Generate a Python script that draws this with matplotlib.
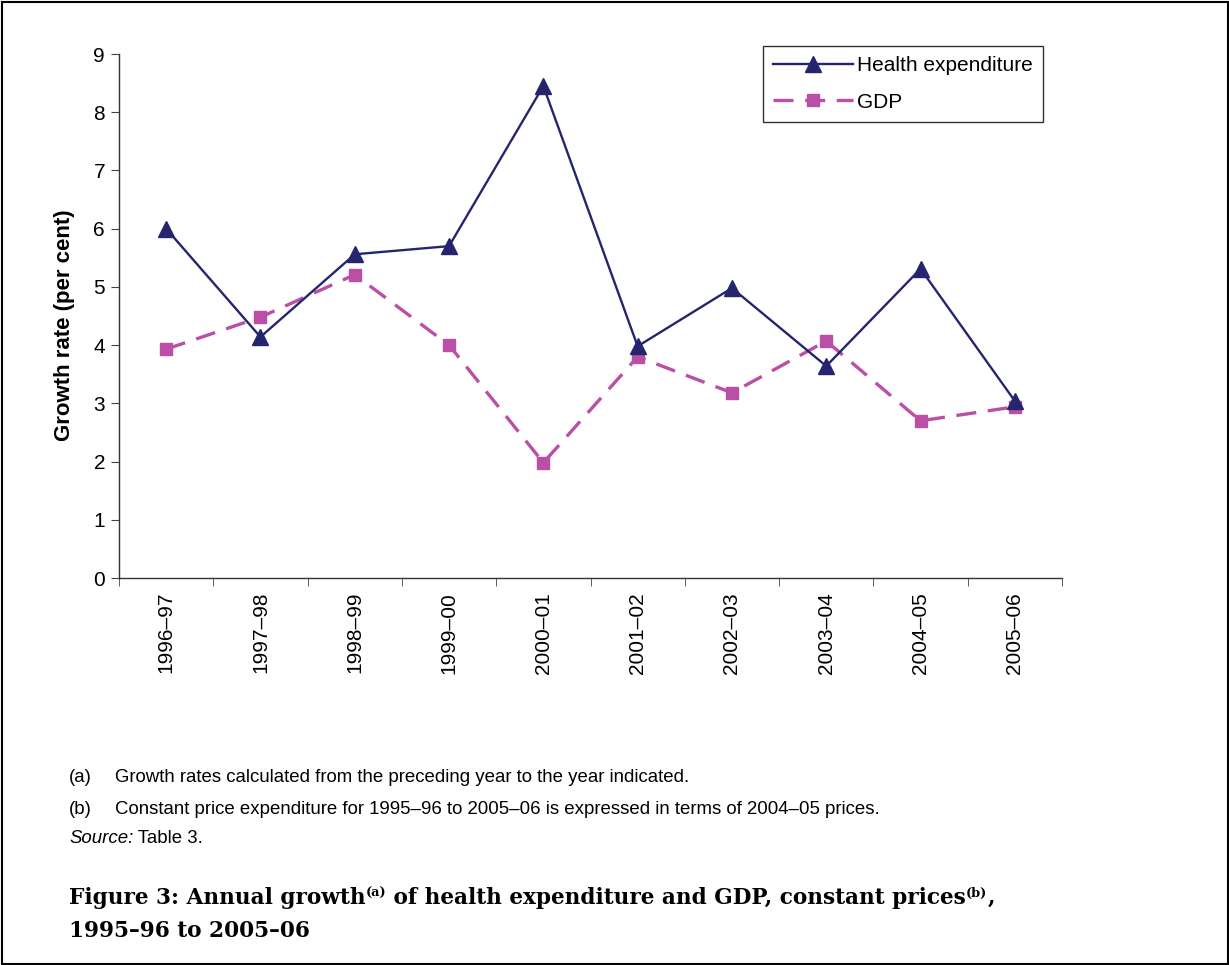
import matplotlib
matplotlib.use("Agg")
import matplotlib.pyplot as plt
from matplotlib.patches import Rectangle
import numpy as np

categories = ["1996–97", "1997–98", "1998–99", "1999–00", "2000–01",
              "2001–02", "2002–03", "2003–04", "2004–05", "2005–06"]
health = [6.00, 4.14, 5.56, 5.70, 8.45, 3.98, 4.98, 3.64, 5.31, 3.04]
gdp = [3.93, 4.48, 5.21, 4.00, 1.98, 3.80, 3.18, 4.07, 2.70, 2.94]
yticks = list(range(0, 10))

NAVY = "#25256F"
MAGENTA = "#BA4FA5"
SANS = ["Liberation Sans", "DejaVu Sans"]
SERIF = ["DejaVu Serif"]

W, H = 1229, 965
fig = plt.figure(figsize=(W / 100, H / 100), dpi=100)
fig.patch.set_facecolor("white")

# outer frame
fig.add_artist(Rectangle((1.5 / W, 1.5 / H), (W - 3) / W, (H - 3) / H,
                         transform=fig.transFigure, fill=False,
                         edgecolor="black", linewidth=1.5))

left, right, top, bottom = 119, 1062, 54, 578
ax = fig.add_axes([left / W, 1 - bottom / H, (right - left) / W, (bottom - top) / H])

x = np.arange(len(categories))
ax.plot(x, health, color=NAVY, linewidth=1.7, marker="^", markersize=11,
        markerfacecolor=NAVY, markeredgecolor=NAVY, label="Health expenditure",
        zorder=3)
ax.plot(x, gdp, color=MAGENTA, linewidth=2.4, linestyle=(0, (6, 3.5)),
        marker="s", markersize=9, markerfacecolor=MAGENTA,
        markeredgecolor=MAGENTA, label="GDP", zorder=2)

ax.set_xlim(-0.5, len(categories) - 0.5)
ax.set_ylim(0, 9)
ax.set_yticks(yticks)
ax.set_yticklabels([str(v) for v in yticks], fontsize=15, family=SANS)
ax.set_xticks(x)
ax.set_xticklabels(categories, rotation=90, fontsize=15, family=SANS)
ax.tick_params(axis="x", length=0, pad=10)
ax.set_xticks(np.arange(-0.5, len(categories), 1.0), minor=True)
ax.tick_params(axis="x", which="minor", length=6, direction="out", color="#444444")
ax.tick_params(axis="y", length=6, direction="out", color="#444444", pad=4)
for s in ["top", "right"]:
    ax.spines[s].set_visible(False)
for s in ["left", "bottom"]:
    ax.spines[s].set_color("#333333")
    ax.spines[s].set_linewidth(1.0)

ax.set_ylabel("Growth rate (per cent)", fontsize=16, fontweight="bold",
              family=SANS)
ax.yaxis.set_label_coords((75 - left) / (right - left), (bottom - 325) / (bottom - top))

leg = ax.legend(loc="upper left", bbox_to_anchor=((763 - left) / (right - left),
                1 - (46 - top) / (bottom - top)),
                frameon=True, fancybox=False,
                prop={"family": SANS, "size": 15}, handlelength=3.8,
                borderpad=0.5, labelspacing=0.82, handletextpad=0.2,
                borderaxespad=0)
leg.get_frame().set_edgecolor("black")
leg.get_frame().set_linewidth(1.0)

def fy(py):
    return 1 - py / H

FN = 13.45
fig.text(69 / W, fy(778), "(a)", fontsize=FN, family=SANS, va="center")
fig.text(115 / W, fy(778), "Growth rates calculated from the preceding year to the year indicated.",
         fontsize=FN, family=SANS, va="center")
fig.text(69 / W, fy(810), "(b)", fontsize=FN, family=SANS, va="center")
fig.text(115 / W, fy(810), "Constant price expenditure for 1995–96 to 2005–06 is expressed in terms of 2004–05 prices.",
         fontsize=FN, family=SANS, va="center")

fig.canvas.draw()
renderer = fig.canvas.get_renderer()

def pieces(x0, y0, parts):
    cx = x0
    for txt, kw, dy in parts:
        t = fig.text(cx / W, fy(y0 - dy), txt, va="baseline", **kw)
        bb = t.get_window_extent(renderer)
        cx += bb.width
    return cx

pieces(69, 843, [("Source:", dict(fontsize=FN, family=SANS, style="italic"), 0),
                 (" Table 3.", dict(fontsize=FN, family=SANS), 0)])

CAP = 15.6
cap = dict(fontsize=CAP, family=SERIF, fontweight="bold")
sup = dict(fontsize=CAP * 0.6, family=SERIF, fontweight="bold")
pieces(69, 904, [("Figure 3: Annual growth", cap, 0),
                 ("(a)", sup, 7),
                 (" of health expenditure and GDP, constant prices", cap, 0),
                 ("(b)", sup, 7),
                 (",", cap, 0)])
pieces(69, 937, [("1995–96 to 2005–06", cap, 0)])

fig.savefig("out.png", dpi=100, facecolor="white")
